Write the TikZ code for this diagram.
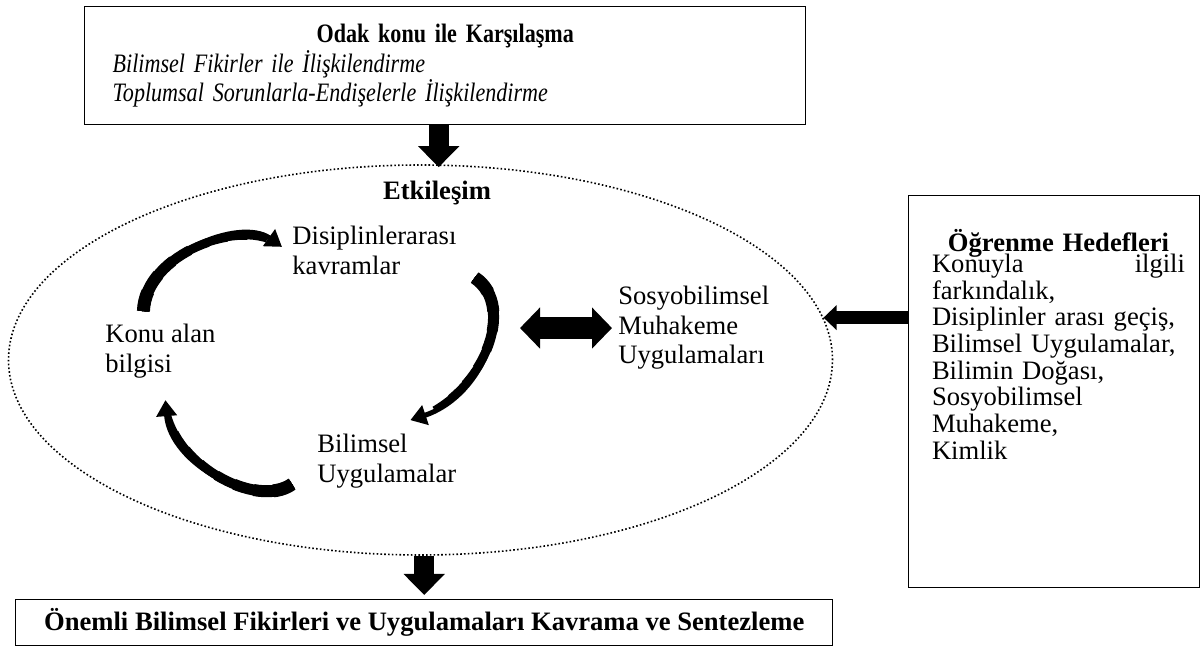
\documentclass[tikz,border=0pt]{standalone}
\usepackage{fontspec}
\setmainfont{Liberation Serif}
\newfontfamily\narrowserif{Liberation Serif}[FakeStretch=0.83, WordSpace=0.75]
\usetikzlibrary{shapes.geometric, arrows.meta, calc}

% curved arrow whose stroke gets thinner towards the head
\newcommand{\taperarrow}[1]{%
    \foreach \w/\l in {6.5/10, 6/20, 5.5/30, 5/40, 4.5/50, 4/60, 3.5/70, 3/80}
        {\draw[line width=\w pt, dash pattern=on \l pt off 900pt] #1;}
    \draw[cyclearrow] #1;}

\begin{document}
\begin{tikzpicture}[x=0.5pt, y=-0.5pt,
    txt/.style={font=\fontsize{13.3}{15}\selectfont, align=left, inner sep=0pt, anchor=base west},
    boxtxt/.style={font=\fontsize{13.3}{13.35}\selectfont},
    frame/.style={draw, line width=0.7pt},
    dotline/.style={draw, line width=0.8pt, dash pattern=on 0.8pt off 1.1pt},
    bigarrow/.style={line width=10pt, -{Triangle[length=10.5pt,width=20pt]}},
    sidearrow/.style={line width=6.5pt, -{Triangle[length=6.5pt,width=12pt]}},
    dblarrow/.style={line width=11pt, {Triangle[length=10pt,width=20pt]}-{Triangle[length=10pt,width=20pt]}},
    cyclearrow/.style={line width=2.5pt, -{Triangle[length=8pt,width=10pt]}}]

    \useasboundingbox (0,0) rectangle (1201,646);

    % Focus box on top
    \node[frame, boxtxt, anchor=north west, minimum height=59pt, inner xsep=14pt, text width=332.5pt, align=left] (odak) at (84,6)
        {\narrowserif\makebox[\linewidth]{\textbf{Odak konu ile Karşılaşma}}\\
        \textit{Bilimsel Fikirler ile İlişkilendirme}\\
        \textit{Toplumsal Sorunlarla-Endişelerle İlişkilendirme}};

    % Interaction ellipse and its parts (base = last line)
    \node[ellipse, dotline, minimum width=412pt, minimum height=195pt, inner sep=0pt] (etk) at (420.5,360) {};
    \node[txt, font=\fontsize{13.3}{15}\selectfont\bfseries, anchor=base] (etkt) at (437,200) {Etkileşim};

    \node[txt] (disiplin) at (292,275) {Disiplinlerarası\\kavramlar};
    \node[txt] (konu) at (105,373) {Konu alan\\bilgisi};
    \node[txt] (bilimsel) at (317,483) {Bilimsel\\Uygulamalar};
    \node[txt, font=\fontsize{13.3}{14.8}\selectfont] (sosyo) at (618,364) {Sosyobilimsel\\Muhakeme\\Uygulamaları};

    % Learning goals box
    \node[frame, anchor=north west, minimum width=145.5pt, minimum height=196pt, inner sep=0pt] (hedefbox) at (908,195) {};
    \node[boxtxt, text width=126.5pt, align=left, inner sep=0pt, anchor=base] (hedef) at (1058.5,252)
        {\makebox[\linewidth]{\textbf{Öğrenme Hedefleri}}\\[-3.1pt]
        \makebox[\linewidth]{Konuyla\hfill ilgili}\\
        farkındalık,\\
        Disiplinler arası geçiş,\\
        Bilimsel Uygulamalar,\\
        Bilimin Doğası,\\
        Sosyobilimsel\\
        Muhakeme,\\
        Kimlik};

    % Result box at the bottom
    \node[frame, boxtxt, anchor=north west, minimum width=408.5pt, minimum height=23pt] (onemli) at (15,599)
        {\textbf{Önemli Bilimsel Fikirleri ve Uygulamaları Kavrama ve Sentezleme}};

    % Block arrows
    \coordinate (topin) at ($(odak.south)+(-6.5,0)$);
    \draw[bigarrow] (topin) -- ([yshift=-1.5pt]topin |- etk.north);
    \draw[bigarrow] (etk.south -| onemli.north) -- ([yshift=2pt]onemli.north);
    \draw[sidearrow] (hedefbox.west |- etk.6) -- (etk.6);
    \draw[dblarrow] ([xshift=-49pt]sosyo.west) -- ([xshift=-3pt]sosyo.west);

    % Cycle inside the ellipse
    \taperarrow{($(konu.north)+(-17,-13)$) .. controls +(2,-57) and +(-42,-30) .. ($(disiplin.west)+(-10,-4)$)}
    \taperarrow{($(disiplin.south east)+(18,2)$) .. controls +(42,28) and +(75,-25) .. ($(bilimsel.north)+(23.5,-14)$)}
    \taperarrow{($(bilimsel.south west)+(-25,-5)$) .. controls +(-35,25) and +(5,65) .. ($(konu.south)+(5,21)$)}
\end{tikzpicture}
\end{document}
